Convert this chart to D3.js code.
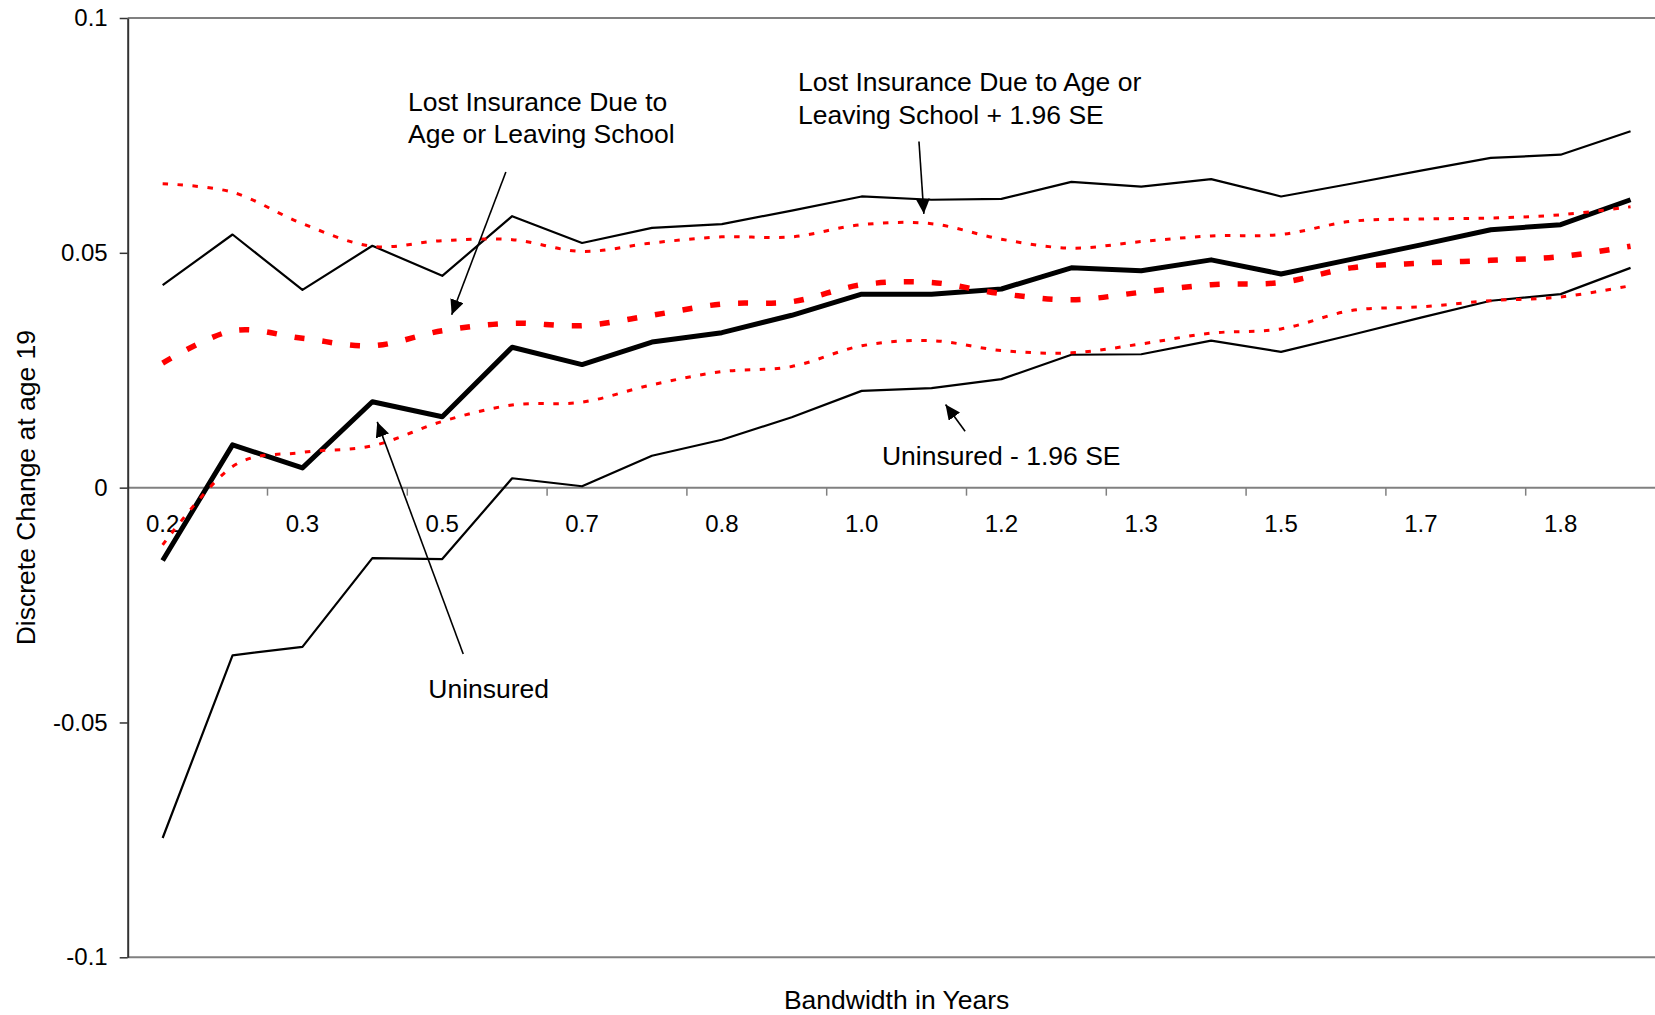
<!DOCTYPE html>
<html>
<head>
<meta charset="utf-8">
<script src="https://cdn.jsdelivr.net/npm/d3@7"></script>
<style>
body{margin:0;background:#fff;}
svg{display:block;}
</style>
</head>
<body>
<script>
// categories: bandwidth in months (shown in years on the axis)
var bandwidthMonths=[2,3,4,5,6,7,8,9,10,11,12,13,14,15,16,17,18,19,20,21,22,23];
// labels shown under every other category
var xTickLabels=['0.2','0.3','0.5','0.7','0.8','1.0','1.2','1.3','1.5','1.7','1.8'];
var yTickValues=[-0.1,-0.05,0,0.05,0.1];
var yTickLabels=['-0.1','-0.05','0','0.05','0.1'];

// Uninsured and its 1.96 SE band
var uninsured=[-0.0155,0.0091,0.0042,0.0183,0.0151,0.0299,0.0262,0.0310,0.0330,0.0367,0.0412,
    0.0412,0.0423,0.0468,0.0462,0.0485,0.0455,0.0486,0.0517,0.0549,0.0560,0.0613];
var uninsuredUpper=[0.0431,0.0539,0.0421,0.0515,0.0451,0.0578,0.0521,0.0553,0.0561,0.0590,0.0620,
    0.0613,0.0615,0.0651,0.0641,0.0657,0.0620,0.0647,0.0675,0.0702,0.0709,0.0759];
var uninsuredLower=[-0.0746,-0.0357,-0.0339,-0.0150,-0.0152,0.0020,0.0003,0.0068,0.0102,0.0150,0.0206,
    0.0212,0.0231,0.0283,0.0284,0.0313,0.0289,0.0325,0.0362,0.0398,0.0412,0.0468];

// Lost insurance due to age or leaving school and its 1.96 SE band
var lostInsurance=[0.0265,0.0334,0.0318,0.0302,0.0334,0.0350,0.0345,0.0367,0.0391,0.0396,0.0432,
    0.0437,0.0413,0.0400,0.0416,0.0432,0.0437,0.0468,0.0478,0.0484,0.0492,0.0514];
var lostUpper=[0.0647,0.0629,0.0562,0.0514,0.0526,0.0528,0.0503,0.0521,0.0534,0.0534,0.0560,
    0.0562,0.0529,0.0510,0.0524,0.0536,0.0539,0.0567,0.0572,0.0574,0.0581,0.0598];
var lostLower=[-0.0122,0.0045,0.0075,0.0089,0.0141,0.0176,0.0182,0.0219,0.0247,0.0258,0.0302,
    0.0313,0.0292,0.0287,0.0306,0.0329,0.0338,0.0377,0.0385,0.0398,0.0406,0.0430];

// annotation positions in data units (category index, value)
var noteTexts=[
    {lines:['Lost Insurance Due to','Age or Leaving School'],i:3.51,v:0.0803},
    {lines:['Lost Insurance Due to Age or','Leaving School + 1.96 SE'],i:9.09,v:0.0844},
    {lines:['Uninsured - 1.96 SE'],i:10.29,v:0.0049},
    {lines:['Uninsured'],i:3.80,v:-0.0448}
];
var noteArrows=[
    {from:[4.91,0.0672],to:[4.135,0.0368]},
    {from:[10.82,0.0737],to:[10.89,0.0583]},
    {from:[11.48,0.0120],to:[11.20,0.0177]},
    {from:[4.30,-0.0354],to:[3.07,0.0140]}
];

var width=1655,height=1015;
var plotLeft=127.7,plotRight=1665.5,plotTop=18,plotBottom=957.3;
var fontFamily='Arial, "Liberation Sans", sans-serif';

var svg=d3.select('body').append('svg')
    .attr('width',width)
    .attr('height',height)
    .style('background','#fff');

var x=d3.scaleBand().domain(bandwidthMonths).range([plotLeft,plotRight]).padding(0);
var y=d3.scaleLinear().domain([-0.1,0.1]).range([plotBottom,plotTop]);
function cx(i){return x(bandwidthMonths[0])+x.step()*(i+0.5);}

// plot area border (top / bottom)
[0.1,-0.1].forEach(function(v){
    svg.append('line')
        .attr('x1',plotLeft).attr('x2',plotRight)
        .attr('y1',y(v)).attr('y2',y(v))
        .attr('stroke','#808080').attr('stroke-width',2);
});

// category axis at 0
var y0=y(0);
svg.append('line')
    .attr('x1',plotLeft).attr('x2',plotRight)
    .attr('y1',y0).attr('y2',y0)
    .attr('stroke','#808080').attr('stroke-width',2);
bandwidthMonths.forEach(function(m,k){
    if(k>0&&k%2==0){
        svg.append('line')
            .attr('x1',x(m)).attr('x2',x(m))
            .attr('y1',y0).attr('y2',y0+8)
            .attr('stroke','#808080').attr('stroke-width',1.5);
    }
});
svg.append('g').selectAll('text')
    .data(xTickLabels)
    .enter()
    .append('text')
    .attr('x',function(d,k){return x(bandwidthMonths[k*2])+x.bandwidth()/2;})
    .attr('y',y0+44)
    .attr('text-anchor','middle')
    .attr('font-family',fontFamily)
    .attr('font-size',24)
    .text(function(d){return d;});

// value axis
var yAxis=svg.append('g')
    .attr('transform','translate('+plotLeft+',0)')
    .call(d3.axisLeft(y)
        .tickValues(yTickValues)
        .tickFormat(function(d,i){return yTickLabels[i];})
        .tickSize(8)
        .tickSizeOuter(0)
        .tickPadding(12))
    .attr('font-family',fontFamily)
    .attr('font-size',24);
yAxis.select('.domain').attr('stroke','#333').attr('stroke-width',2);
yAxis.selectAll('.tick line').attr('stroke','#333').attr('stroke-width',1.5);
yAxis.selectAll('.tick text').attr('fill','#000');

// series
var smooth=d3.curveCardinal.tension(0);
var series=[
    {values:uninsuredUpper,color:'#000',w:2.2,dash:null,curve:d3.curveLinear},
    {values:uninsuredLower,color:'#000',w:2.2,dash:null,curve:d3.curveLinear},
    {values:uninsured,color:'#000',w:5,dash:null,curve:d3.curveLinear},
    {values:lostUpper,color:'#ff0000',w:3,dash:'5.5,9.5',curve:smooth},
    {values:lostLower,color:'#ff0000',w:3,dash:'5.5,9.5',curve:smooth},
    {values:lostInsurance,color:'#ff0000',w:5.5,dash:'10,18',curve:smooth}
];
series.forEach(function(s){
    var line=d3.line()
        .x(function(d,i){return x(bandwidthMonths[i])+x.bandwidth()/2;})
        .y(function(d){return y(d);})
        .curve(s.curve);
    svg.append('path')
        .datum(s.values)
        .attr('d',line)
        .attr('fill','none')
        .attr('stroke',s.color)
        .attr('stroke-width',s.w)
        .attr('stroke-dasharray',s.dash)
        .attr('stroke-linejoin','round');
});

// annotations
svg.append('defs').append('marker')
    .attr('id','arrow')
    .attr('markerUnits','userSpaceOnUse')
    .attr('markerWidth',15).attr('markerHeight',14)
    .attr('refX',15).attr('refY',7)
    .attr('orient','auto')
    .append('path')
    .attr('d','M0,0L15,7L0,14Z')
    .attr('fill','#000');
noteArrows.forEach(function(a){
    svg.append('line')
        .attr('x1',cx(a.from[0])).attr('y1',y(a.from[1]))
        .attr('x2',cx(a.to[0])).attr('y2',y(a.to[1]))
        .attr('stroke','#000').attr('stroke-width',1.6)
        .attr('marker-end','url(#arrow)');
});
noteTexts.forEach(function(n){
    var t=svg.append('text')
        .attr('x',cx(n.i)).attr('y',y(n.v))
        .attr('font-family',fontFamily)
        .attr('font-size',26.5);
    n.lines.forEach(function(l,k){
        t.append('tspan').attr('x',cx(n.i)).attr('dy',k==0?0:32.6).text(l);
    });
});

// axis titles
svg.append('text')
    .attr('x',(plotLeft+plotRight)/2).attr('y',1009)
    .attr('text-anchor','middle')
    .attr('font-family',fontFamily)
    .attr('font-size',26.5)
    .text('Bandwidth in Years');
svg.append('text')
    .attr('transform','translate(35,'+((plotTop+plotBottom)/2)+') rotate(-90)')
    .attr('text-anchor','middle')
    .attr('font-family',fontFamily)
    .attr('font-size',26.5)
    .text('Discrete Change at age 19');
</script>
</body>
</html>
